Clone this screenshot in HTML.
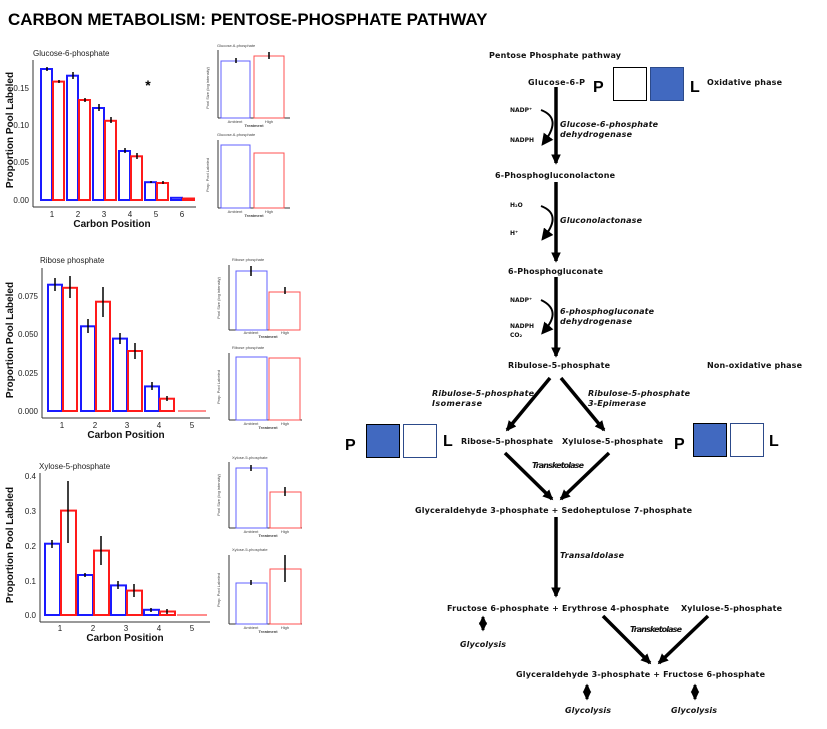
<!DOCTYPE html>
<html><head><meta charset="utf-8"><style>
html,body{margin:0;padding:0;background:#fff;}
svg{display:block}
.t{font-family:"DejaVu Sans",sans-serif;font-weight:bold;font-size:8px;fill:#111}
.i{font-family:"DejaVu Sans",sans-serif;font-weight:bold;font-style:italic;font-size:8px;fill:#111}
.s{font-family:"DejaVu Sans",sans-serif;font-weight:bold;font-size:6px;fill:#111}
.a{font-family:"Liberation Sans",sans-serif;font-size:8px;fill:#222}
.ab{font-family:"Liberation Sans",sans-serif;font-size:10px;font-weight:bold;fill:#111}
.m{font-family:"Liberation Sans",sans-serif;font-size:4px;fill:#444}
.b{fill:none;stroke:#1a1aff;stroke-width:2}
.r{fill:none;stroke:#ff1a1a;stroke-width:2}
.bi{fill:none;stroke:#6060ff;stroke-width:1}
.ri{fill:none;stroke:#ff5050;stroke-width:1}
.ax{stroke:#333;stroke-width:1}
.e{stroke:#000;stroke-width:1.5}
.ar{stroke:#000;stroke-width:3.5;fill:none}
</style></head><body>
<svg width="827" height="729" viewBox="0 0 827 729" xmlns="http://www.w3.org/2000/svg">
<defs>
<marker id="h" markerWidth="4" markerHeight="4" refX="2.5" refY="2" orient="auto" markerUnits="strokeWidth"><path d="M0,0.6 L3,2 L0,3.4 Z" fill="#000"/></marker>
<marker id="h2" markerWidth="4" markerHeight="4" refX="2.5" refY="2" orient="auto-start-reverse" markerUnits="strokeWidth"><path d="M0,0.6 L3,2 L0,3.4 Z" fill="#000"/></marker>
<marker id="hs" markerWidth="6" markerHeight="6" refX="3" refY="3" orient="auto"><path d="M0,0 L6,3 L0,6 Z" fill="#000"/></marker>
</defs>
<rect x="0" y="0" width="827" height="729" fill="#fff"/>
<text x="8" y="25" font-family="Liberation Sans,sans-serif" font-weight="bold" font-size="17" fill="#000">CARBON METABOLISM: PENTOSE-PHOSPHATE PATHWAY</text>

<!-- Chart 1 -->
<text x="33" y="56" class="a">Glucose-6-phosphate</text>
<line x1="33" y1="60" x2="33" y2="207" class="ax"/><line x1="33" y1="207" x2="196" y2="207" class="ax"/>
<text x="29" y="91" class="a" text-anchor="end">0.15</text><text x="29" y="128" class="a" text-anchor="end">0.10</text><text x="29" y="165" class="a" text-anchor="end">0.05</text><text x="29" y="203" class="a" text-anchor="end">0.00</text>
<g>
<rect x="41" y="69" width="11" height="131" class="b"/><rect x="53" y="81.6" width="11" height="118.4" class="r"/>
<rect x="67" y="75.7" width="11" height="124.3" class="b"/><rect x="79" y="100" width="11" height="100" class="r"/>
<rect x="93" y="108" width="11" height="92" class="b"/><rect x="105" y="120.8" width="11" height="79.2" class="r"/>
<rect x="119" y="151" width="11" height="49" class="b"/><rect x="131" y="156.3" width="11" height="43.7" class="r"/>
<rect x="145" y="182.2" width="11" height="17.8" class="b"/><rect x="157" y="183" width="11" height="17" class="r"/>
<rect x="171" y="197.8" width="11" height="2.2" class="b"/><rect x="183" y="198.5" width="11" height="1.5" class="r"/>
<path d="M47,67v4M59,80v3M73,72v7M85,98v4M99,104v7M111,117v6M125,148v5M137,153v6M151,181v2M163,181v3" class="e"/>
</g>
<text x="148" y="90" font-family="Liberation Sans" font-weight="bold" font-size="14" text-anchor="middle">*</text>
<text x="52" y="217" class="a" text-anchor="middle">1</text><text x="78" y="217" class="a" text-anchor="middle">2</text><text x="104" y="217" class="a" text-anchor="middle">3</text><text x="130" y="217" class="a" text-anchor="middle">4</text><text x="156" y="217" class="a" text-anchor="middle">5</text><text x="182" y="217" class="a" text-anchor="middle">6</text>
<text x="112" y="227" class="ab" text-anchor="middle">Carbon Position</text>
<text transform="translate(13,130) rotate(-90)" class="ab" text-anchor="middle">Proportion Pool Labeled</text>

<!-- inset 1 -->
<text x="217" y="47" class="m">Glucose-6-phosphate</text>
<line x1="218" y1="50" x2="218" y2="118" class="ax"/><line x1="218" y1="118" x2="290" y2="118" class="ax"/>
<rect x="221" y="61" width="29" height="57" class="bi"/><rect x="254" y="56" width="30" height="62" class="ri"/>
<path d="M236,58v5M269,52v7" class="e" stroke-width="0.7"/>
<text x="235" y="123" class="m" text-anchor="middle">Ambient</text><text x="269" y="123" class="m" text-anchor="middle">High</text><text x="254" y="127" class="m" text-anchor="middle" font-weight="bold">Treatment</text>
<text transform="translate(209,88) rotate(-90)" class="m" text-anchor="middle">Pool Size (log intensity)</text>
<text x="217" y="136" class="m">Glucose-6-phosphate</text>
<line x1="218" y1="140" x2="218" y2="208" class="ax"/><line x1="218" y1="208" x2="290" y2="208" class="ax"/>
<rect x="221" y="145" width="29" height="63" class="bi"/><rect x="254" y="153" width="30" height="55" class="ri"/>
<text x="235" y="213" class="m" text-anchor="middle">Ambient</text><text x="269" y="213" class="m" text-anchor="middle">High</text><text x="254" y="217" class="m" text-anchor="middle" font-weight="bold">Treatment</text>
<text transform="translate(209,175) rotate(-90)" class="m" text-anchor="middle">Prop. Pool Labeled</text>

<!-- Chart 2 -->
<text x="40" y="263" class="a">Ribose phosphate</text>
<line x1="42" y1="268" x2="42" y2="418" class="ax"/><line x1="42" y1="418" x2="210" y2="418" class="ax"/>
<text x="38" y="299" class="a" text-anchor="end">0.075</text><text x="38" y="337" class="a" text-anchor="end">0.050</text><text x="38" y="376" class="a" text-anchor="end">0.025</text><text x="38" y="414" class="a" text-anchor="end">0.000</text>
<rect x="48" y="284.7" width="14" height="126.3" class="b"/><rect x="63" y="287.8" width="14" height="123.2" class="r"/>
<rect x="81" y="326.3" width="14" height="84.7" class="b"/><rect x="96" y="301.7" width="14" height="109.3" class="r"/>
<rect x="113" y="338.6" width="14" height="72.4" class="b"/><rect x="128" y="351" width="14" height="60" class="r"/>
<rect x="145" y="386.4" width="14" height="24.6" class="b"/><rect x="160" y="398.7" width="14" height="12.3" class="r"/>
<line x1="178" y1="411" x2="206" y2="411" stroke="#ff1a1a" stroke-width="1"/>
<path d="M55,278v13M70,276v22M88,319v14M103,287v30M120,333v11M135,343v16M152,382v8M167,396v5" class="e"/>
<text x="62" y="428" class="a" text-anchor="middle">1</text><text x="95" y="428" class="a" text-anchor="middle">2</text><text x="127" y="428" class="a" text-anchor="middle">3</text><text x="159" y="428" class="a" text-anchor="middle">4</text><text x="192" y="428" class="a" text-anchor="middle">5</text>
<text x="126" y="438" class="ab" text-anchor="middle">Carbon Position</text>
<text transform="translate(13,340) rotate(-90)" class="ab" text-anchor="middle">Proportion Pool Labeled</text>

<text x="232" y="261" class="m">Ribose phosphate</text>
<line x1="229" y1="265" x2="229" y2="330" class="ax"/><line x1="229" y1="330" x2="292" y2="330" class="ax"/>
<rect x="236" y="271" width="31" height="59" class="bi"/><rect x="269" y="292" width="31" height="38" class="ri"/>
<path d="M251,266v10M285,287v7" class="e" stroke-width="0.7"/>
<text x="251" y="334" class="m" text-anchor="middle">Ambient</text><text x="285" y="334" class="m" text-anchor="middle">High</text><text x="268" y="338" class="m" text-anchor="middle" font-weight="bold">Treatment</text>
<text transform="translate(220,298) rotate(-90)" class="m" text-anchor="middle">Pool Size (log intensity)</text>
<text x="232" y="349" class="m">Ribose phosphate</text>
<line x1="229" y1="353" x2="229" y2="420" class="ax"/><line x1="229" y1="420" x2="302" y2="420" class="ax"/>
<rect x="236" y="357" width="31" height="63" class="bi"/><rect x="269" y="358" width="31" height="62" class="ri"/>
<text x="251" y="425" class="m" text-anchor="middle">Ambient</text><text x="285" y="425" class="m" text-anchor="middle">High</text><text x="268" y="429" class="m" text-anchor="middle" font-weight="bold">Treatment</text>
<text transform="translate(220,387) rotate(-90)" class="m" text-anchor="middle">Prop. Pool Labeled</text>

<!-- Chart 3 -->
<text x="39" y="469" class="a">Xylose-5-phosphate</text>
<line x1="40" y1="473" x2="40" y2="622" class="ax"/><line x1="40" y1="622" x2="210" y2="622" class="ax"/>
<text x="36" y="479" class="a" text-anchor="end">0.4</text><text x="36" y="514" class="a" text-anchor="end">0.3</text><text x="36" y="549" class="a" text-anchor="end">0.2</text><text x="36" y="584" class="a" text-anchor="end">0.1</text><text x="36" y="618" class="a" text-anchor="end">0.0</text>
<rect x="45" y="543.7" width="15" height="71.3" class="b"/><rect x="61" y="510.6" width="15" height="104.4" class="r"/>
<rect x="78" y="575" width="15" height="40" class="b"/><rect x="94" y="550.6" width="15" height="64.4" class="r"/>
<rect x="111" y="585.4" width="15" height="29.6" class="b"/><rect x="127" y="590.6" width="15" height="24.4" class="r"/>
<rect x="144" y="609.8" width="15" height="5.2" class="b"/><rect x="160" y="611.5" width="15" height="3.5" class="r"/>
<line x1="177" y1="615" x2="207" y2="615" stroke="#ff1a1a" stroke-width="1"/>
<path d="M52,540v8M68,481v62M85,573v4M101,536v29M118,581v8M134,584v13M151,608v4M167,609v5" class="e"/>
<text x="60" y="631" class="a" text-anchor="middle">1</text><text x="93" y="631" class="a" text-anchor="middle">2</text><text x="126" y="631" class="a" text-anchor="middle">3</text><text x="159" y="631" class="a" text-anchor="middle">4</text><text x="192" y="631" class="a" text-anchor="middle">5</text>
<text x="125" y="641" class="ab" text-anchor="middle">Carbon Position</text>
<text transform="translate(13,545) rotate(-90)" class="ab" text-anchor="middle">Proportion Pool Labeled</text>

<text x="232" y="459" class="m">Xylose-5-phosphate</text>
<line x1="229" y1="462" x2="229" y2="528" class="ax"/><line x1="229" y1="528" x2="302" y2="528" class="ax"/>
<rect x="236" y="468" width="31" height="60" class="bi"/><rect x="270" y="492" width="31" height="36" class="ri"/>
<path d="M251,465v6M285,487v9" class="e" stroke-width="0.7"/>
<text x="251" y="533" class="m" text-anchor="middle">Ambient</text><text x="285" y="533" class="m" text-anchor="middle">High</text><text x="268" y="537" class="m" text-anchor="middle" font-weight="bold">Treatment</text>
<text transform="translate(220,495) rotate(-90)" class="m" text-anchor="middle">Pool Size (log intensity)</text>
<text x="232" y="551" class="m">Xylose-5-phosphate</text>
<line x1="229" y1="555" x2="229" y2="624" class="ax"/><line x1="229" y1="624" x2="302" y2="624" class="ax"/>
<rect x="236" y="583" width="31" height="41" class="bi"/><rect x="270" y="569" width="31" height="55" class="ri"/>
<path d="M251,580v5M285,555v27" class="e" stroke-width="0.7"/>
<text x="251" y="629" class="m" text-anchor="middle">Ambient</text><text x="285" y="629" class="m" text-anchor="middle">High</text><text x="268" y="633" class="m" text-anchor="middle" font-weight="bold">Treatment</text>
<text transform="translate(220,590) rotate(-90)" class="m" text-anchor="middle">Prop. Pool Labeled</text>

<!-- Right diagram -->
<text x="489" y="58" class="t" textLength="132">Pentose Phosphate pathway</text>
<text x="528" y="85" class="t" textLength="57">Glucose-6-P</text>
<text x="593" y="92" font-family="Liberation Sans" font-weight="bold" font-size="16">P</text>
<rect x="613.5" y="67.5" width="33" height="33" fill="#fff" stroke="#000" stroke-width="1"/>
<rect x="650.5" y="67.5" width="33" height="33" fill="#4169c0" stroke="#2c4a8a" stroke-width="1"/>
<text x="690" y="92" font-family="Liberation Sans" font-weight="bold" font-size="16">L</text>
<text x="707" y="85" class="t" textLength="75">Oxidative phase</text>

<line x1="556" y1="87" x2="556" y2="163" class="ar" marker-end="url(#h)"/>
<text x="510" y="112" class="s">NADP⁺</text><text x="510" y="142" class="s">NADPH</text>
<path d="M541,110 Q562,118 545,141" stroke="#000" stroke-width="2" fill="none" marker-end="url(#hs)"/>
<text x="560" y="127" class="i" textLength="98">Glucose-6-phosphate</text>
<text x="560" y="137" class="i" textLength="72">dehydrogenase</text>

<text x="495" y="178" class="t" textLength="120">6-Phosphogluconolactone</text>
<line x1="556" y1="182" x2="556" y2="261" class="ar" marker-end="url(#h)"/>
<text x="510" y="207" class="s">H₂O</text><text x="510" y="235" class="s">H⁺</text>
<path d="M541,206 Q562,214 545,236" stroke="#000" stroke-width="2" fill="none" marker-end="url(#hs)"/>
<text x="560" y="223" class="i" textLength="82">Gluconolactonase</text>

<text x="508" y="274" class="t" textLength="95">6-Phosphogluconate</text>
<line x1="556" y1="277" x2="556" y2="356" class="ar" marker-end="url(#h)"/>
<text x="510" y="302" class="s">NADP⁺</text><text x="510" y="328" class="s">NADPH</text><text x="510" y="337" class="s">CO₂</text>
<path d="M541,300 Q562,310 545,330" stroke="#000" stroke-width="2" fill="none" marker-end="url(#hs)"/>
<text x="560" y="314" class="i" textLength="94">6-phosphogluconate</text>
<text x="560" y="324" class="i" textLength="72">dehydrogenase</text>

<text x="508" y="368" class="t" textLength="102">Ribulose-5-phosphate</text>
<text x="707" y="368" class="t" textLength="95">Non-oxidative phase</text>

<line x1="550" y1="378" x2="507" y2="430" class="ar" stroke-width="3" marker-end="url(#h)"/>
<line x1="561" y1="378" x2="604" y2="430" class="ar" stroke-width="3" marker-end="url(#h)"/>
<text x="432" y="396" class="i" textLength="102">Ribulose-5-phosphate</text>
<text x="432" y="406" class="i" textLength="50">Isomerase</text>
<text x="588" y="396" class="i" textLength="102">Ribulose-5-phosphate</text>
<text x="588" y="406" class="i" textLength="58">3-Epimerase</text>

<text x="345" y="450" font-family="Liberation Sans" font-weight="bold" font-size="16">P</text>
<rect x="366.5" y="424.5" width="33" height="33" fill="#4169c0" stroke="#000" stroke-width="1"/>
<rect x="403.5" y="424.5" width="33" height="33" fill="#fff" stroke="#2c4a8a" stroke-width="1"/>
<text x="443" y="446" font-family="Liberation Sans" font-weight="bold" font-size="16">L</text>
<text x="461" y="444" class="t" textLength="92">Ribose-5-phosphate</text>
<text x="562" y="444" class="t" textLength="101">Xylulose-5-phosphate</text>
<text x="674" y="449" font-family="Liberation Sans" font-weight="bold" font-size="16">P</text>
<rect x="693.5" y="423.5" width="33" height="33" fill="#4169c0" stroke="#000" stroke-width="1"/>
<rect x="730.5" y="423.5" width="33" height="33" fill="#fff" stroke="#2c4a8a" stroke-width="1"/>
<text x="769" y="446" font-family="Liberation Sans" font-weight="bold" font-size="16">L</text>

<line x1="505" y1="453" x2="552" y2="499" class="ar" stroke-width="3" marker-end="url(#h)"/>
<line x1="609" y1="453" x2="561" y2="499" class="ar" stroke-width="3" marker-end="url(#h)"/>
<text x="532" y="468" class="i" font-size="6" textLength="52">Transketolase</text>

<text x="415" y="513" class="t" textLength="277">Glyceraldehyde 3-phosphate + Sedoheptulose 7-phosphate</text>
<line x1="556" y1="517" x2="556" y2="596" class="ar" marker-end="url(#h)"/>
<text x="560" y="558" class="i" textLength="64">Transaldolase</text>

<text x="447" y="611" class="t" textLength="222">Fructose 6-phosphate + Erythrose 4-phosphate</text>
<text x="681" y="611" class="t" textLength="101">Xylulose-5-phosphate</text>
<line x1="483" y1="617" x2="483" y2="630" stroke="#000" stroke-width="3" marker-end="url(#h2)" marker-start="url(#h2)"/>
<text x="460" y="647" class="i" textLength="46">Glycolysis</text>

<line x1="603" y1="616" x2="650" y2="663" class="ar" stroke-width="3" marker-end="url(#h)"/>
<line x1="708" y1="616" x2="659" y2="663" class="ar" stroke-width="3" marker-end="url(#h)"/>
<text x="630" y="632" class="i" font-size="6" textLength="52">Transketolase</text>

<text x="516" y="677" class="t" textLength="249">Glyceraldehyde 3-phosphate + Fructose 6-phosphate</text>
<line x1="587" y1="685" x2="587" y2="699" stroke="#000" stroke-width="3" marker-end="url(#h2)" marker-start="url(#h2)"/>
<line x1="695" y1="685" x2="695" y2="699" stroke="#000" stroke-width="3" marker-end="url(#h2)" marker-start="url(#h2)"/>
<text x="565" y="713" class="i" textLength="46">Glycolysis</text>
<text x="671" y="713" class="i" textLength="46">Glycolysis</text>
</svg>
</body></html>
